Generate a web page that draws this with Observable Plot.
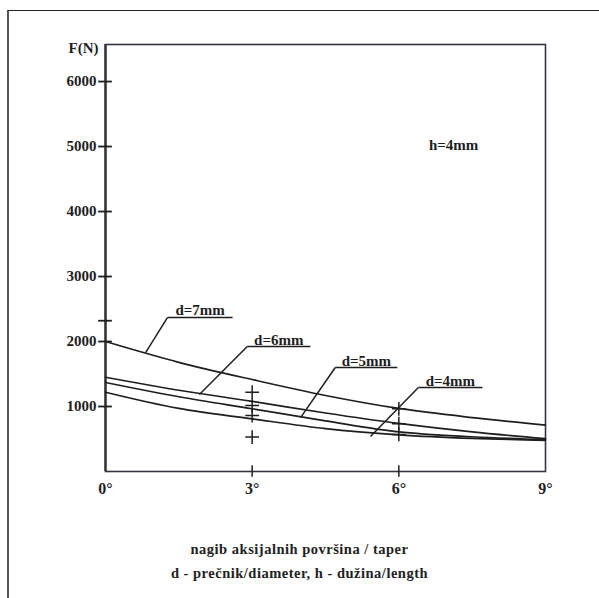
<!DOCTYPE html>
<html>
<head>
<meta charset="utf-8">
<script src="https://cdn.jsdelivr.net/npm/d3@7"></script>
<script src="https://cdn.jsdelivr.net/npm/@observablehq/plot@0.6"></script>
<style>
  html, body { margin: 0; padding: 0; background: #fff; }
  body { width: 599px; height: 598px; position: relative; overflow: hidden; font-family: "Liberation Serif", "Times New Roman", "DejaVu Serif", serif; }
  #chart { position: absolute; left: 0; top: 0; }
  #border { position: absolute; left: 7px; top: 10px; width: 600px; height: 600px; border-left: 2px solid #555; border-top: 1.5px solid #222; }
  #caption { position: absolute; left: 0; top: 537px; width: 599px; text-align: center; font-weight: bold; font-size: 14.5px; line-height: 24px; letter-spacing: 0.5px; color: #222; }
  svg text { font-family: "Liberation Serif", "Times New Roman", "DejaVu Serif", serif; }
</style>
</head>
<body>
<div id="border"></div>
<div id="chart"></div>
<div id="caption">nagib aksijalnih površina / taper<br>d - prečnik/diameter, h - dužina/length</div>
<script>
// ---- data ----
const taper = [0, 1.5, 3, 4.5, 6, 7.5, 9];            // degrees
const seriesNames = ["d=7mm", "d=6mm", "d=5mm", "d=4mm"];
const d7 = [2000, 1680, 1415, 1170, 970, 830, 715];
const d6 = [1450, 1250, 1080, 900, 740, 610, 505];
const d5 = [1370, 1150, 965, 780, 610, 535, 490];
const d4 = [1220, 970, 810, 660, 565, 510, 480];
const xTicks = [0, 3, 6, 9];
const yTicks = [1000, 2000, 3000, 4000, 5000, 6000];
const extraYTicks = [2320];
// measurement crosses
const crossX = [3, 3, 3, 3, 6, 6, 6];
const crossY = [1220, 1015, 860, 530, 965, 735, 570];
// annotation labels (data units)
const labelUnderlineY = [2370, 1923, 1600, 1292];
const labelX1 = [1.27, 2.9, 4.7, 6.4];
const labelX2 = [2.6, 4.19, 5.97, 7.71];
const leaderEndX = [0.82, 1.92, 3.99, 5.42];
const leaderEndY = [1830, 1185, 830, 540];

const allSeries = [d7, d6, d5, d4];
const rows = [];
allSeries.forEach((vals, i) => vals.forEach((v, j) => rows.push({series: seriesNames[i], deg: taper[j], F: v})));
const crosses = crossX.map((x, i) => ({x, y: crossY[i]}));
const labels = seriesNames.map((name, i) => ({
  name, y: labelUnderlineY[i], x1: labelX1[i], x2: labelX2[i],
  xm: (labelX1[i] + labelX2[i]) / 2, ex: leaderEndX[i], ey: leaderEndY[i]
}));

const ink = "#1e1e1e";
const serif = "Liberation Serif, Times New Roman, DejaVu Serif, serif";
const plot = Plot.plot({
  width: 599,
  height: 598,
  marginLeft: 105,
  marginRight: 54,
  marginTop: 44,
  marginBottom: 127,
  x: {domain: [0, 9]},
  y: {domain: [0, 6570]},
  style: {fontFamily: serif, fontWeight: "bold", fontSize: "15px", color: ink, background: "transparent"},
  marks: [
    Plot.frame({stroke: "#334", strokeWidth: 1.6}),
    Plot.ruleX([0], {stroke: "#333", strokeWidth: 2.4}),
    Plot.axisY(yTicks, {tickSize: 0, tickPadding: 9, tickFormat: d => String(d), label: null, fontWeight: "bold", fontSize: 15, letterSpacing: 1.2}),
    Plot.ruleY(yTicks.concat(extraYTicks), {x1: -0.14, x2: 0.14, stroke: ink, strokeWidth: 1.8}),
    Plot.axisX(xTicks, {tickSize: 0, tickPadding: 11, tickFormat: d => d + "°", label: null, fontWeight: "bold", fontSize: 16}),
    Plot.ruleX([3, 6], {y1: -90, y2: 90, stroke: ink, strokeWidth: 1.5}),
    Plot.line(rows, {x: "deg", y: "F", z: "series", curve: "catmull-rom", stroke: ink, strokeWidth: 1.7}),
    Plot.dot(crosses, {x: "x", y: "y", symbol: "plus", r: 4.5, stroke: ink, strokeWidth: 1.5}),
    Plot.link(labels, {x1: "ex", y1: "ey", x2: "x1", y2: "y", stroke: ink, strokeWidth: 1.5}),
    Plot.link(labels, {x1: "x1", y1: "y", x2: "x2", y2: "y", stroke: ink, strokeWidth: 1.5}),
    Plot.text(labels, {x: "xm", y: "y", text: "name", lineAnchor: "bottom", dy: -2, fontWeight: "bold", fontSize: 15, fill: ink}),
    Plot.text(["h=4mm"], {x: 7.12, y: 5015, fontWeight: "bold", fontSize: 15, fill: ink}),
    Plot.text(["F(N)"], {frameAnchor: "top-left", dx: -22, dy: -2, textAnchor: "middle", fontWeight: "bold", fontSize: 15, fill: ink})
  ]
});
document.getElementById("chart").appendChild(plot);
</script>
</body>
</html>
